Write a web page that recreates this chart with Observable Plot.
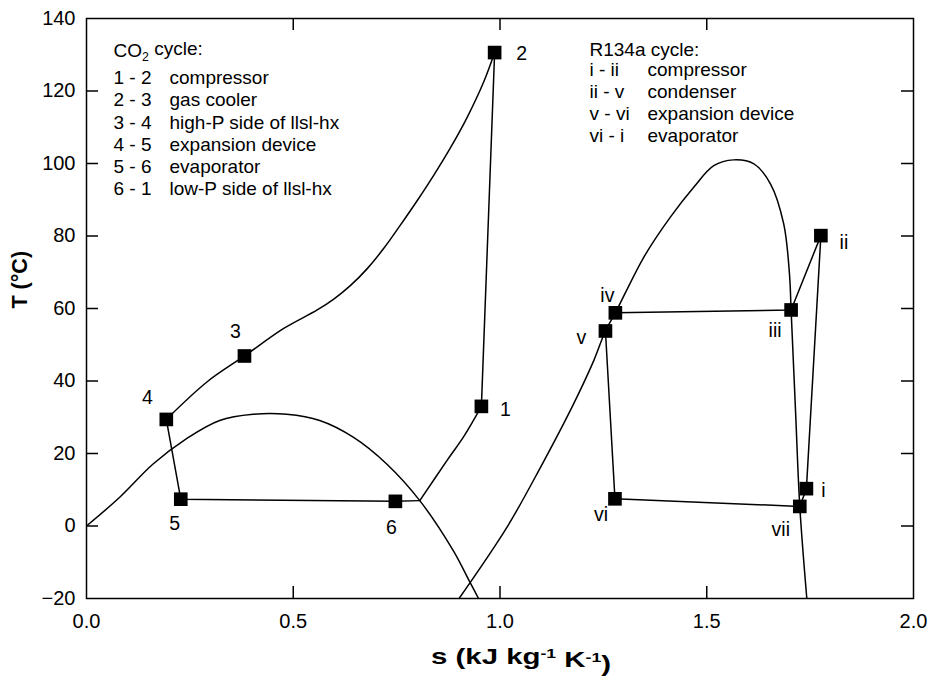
<!DOCTYPE html>
<html><head><meta charset="utf-8">
<script src="https://cdn.jsdelivr.net/npm/d3@7"></script>
<script src="https://cdn.jsdelivr.net/npm/@observablehq/plot@0.6"></script>
<style>
body{margin:0;background:#fff}
svg{font-family:"Liberation Sans",Arial,sans-serif}
</style>
</head><body><div id="chart"></div>
<script>
// ---- tick values ----
const xTickValues = [0, 0.5, 1.0, 1.5, 2.0];
const yTickValues = [-20, 0, 20, 40, 60, 80, 100, 120, 140];
const xInnerTicks = [0.5, 1.0, 1.5];
const yInnerTicks = [0, 20, 40, 60, 80, 100, 120];

// ---- CO2 cycle state points ----
const co2States = [
  {id: "1", s: 0.955, T: 33.0},
  {id: "2", s: 0.987, T: 130.6},
  {id: "3", s: 0.382, T: 46.9},
  {id: "4", s: 0.193, T: 29.4},
  {id: "5", s: 0.228, T: 7.4},
  {id: "6", s: 0.747, T: 6.8}
];
// ---- R134a cycle state points ----
const r134aStates = [
  {id: "i", s: 1.741, T: 10.3},
  {id: "ii", s: 1.776, T: 80.1},
  {id: "iii", s: 1.704, T: 59.6},
  {id: "iv", s: 1.279, T: 58.8},
  {id: "v", s: 1.255, T: 53.8},
  {id: "vi", s: 1.278, T: 7.5},
  {id: "vii", s: 1.725, T: 5.4}
];

// ---- CO2 saturation dome [s, T] ----
const co2Dome = [[0,0],[0.081,8.0],[0.161,17.1],[0.242,24.1],[0.322,29.1],[0.403,30.8],[0.484,30.8],
  [0.564,29.1],[0.645,24.5],[0.726,17.1],[0.806,7.0],[0.887,-6.8],[0.925,-15],[0.948,-20]];
// ---- CO2 gas cooler + high-P side of llsl-hx (2 -> 3 -> 4) ----
const co2HighP = [[0.987,130.6],[0.961,122.6],[0.920,112.6],[0.880,104.3],[0.840,96.8],[0.800,89.8],
  [0.759,83.0],[0.719,76.6],[0.679,71.0],[0.638,66.3],[0.598,62.6],[0.558,59.6],[0.477,54.5],[0.382,46.9],[0.292,39.8],[0.193,29.4]];
// ---- CO2 low-P side superheat (saturation point -> 1) ----
const co2LowP = [[0.806,7.0],[0.872,18.1],[0.913,24.8],[0.955,33.0]];
// ---- CO2 straight legs ----
const co2Compressor = [[0.955,33.0],[0.987,130.6]];
const co2Expansion = [[0.193,29.4],[0.228,7.4],[0.747,6.8],[0.806,7.0]];

// ---- R134a saturation dome ----
const r134aDome = [[0.901,-20],[1.017,-0.3],[1.098,16.2],[1.178,33.7],[1.227,45.7],[1.255,53.8],[1.279,58.8],
  [1.348,74.2],[1.412,85.2],[1.469,93.5],[1.517,99.4],[1.565,101.0],[1.614,99.9],[1.654,94.4],[1.686,83.4],
  [1.700,69.6],[1.704,59.6],[1.715,31.0],[1.725,5.4],[1.742,-20]];
// ---- R134a straight legs ----
const r134aLegA = [[1.741,10.3],[1.776,80.1],[1.704,59.6],[1.279,58.8]];
const r134aLegB = [[1.255,53.8],[1.278,7.5],[1.725,5.4],[1.741,10.3]];

// ---- legend texts ----
const co2Title = "CO2 cycle:";
const co2Codes = ["1 - 2", "2 - 3", "3 - 4", "4 - 5", "5 - 6", "6 - 1"];
const co2Desc = ["compressor", "gas cooler", "high-P side of llsl-hx", "expansion device", "evaporator", "low-P side of llsl-hx"];
const r134aTitle = "R134a cycle:";
const r134aCodes = ["i - ii", "ii - v", "v - vi", "vi - i"];
const r134aDesc = ["compressor", "condenser", "expansion device", "evaporator"];

const xTitle = "s (kJ kg-1 K-1)";
const yTitle = "T (°C)";

// ---- label offsets (px) ----
const labelOffset = {
  "1": [24, 3], "2": [27, 1], "3": [-9, -24], "4": [-19, -22], "5": [-6, 25], "6": [-4, 26],
  "i": [17, 2], "ii": [23, 7], "iii": [-16, 21], "iv": [-8, -17], "v": [-24, 7], "vi": [-14, 16], "vii": [-19, 23]
};

const SW = 1.5;
const W = 932, H = 677, ML = 86, MR = 19, MT = 18, MB = 79;
const innerW = W - ML - MR, innerH = H - MT - MB, TICK = 12;
const lineOpts = {x: d => d[0], y: d => d[1], stroke: "black", strokeWidth: SW};
const allStates = [...co2States, ...r134aStates];

const legendFont = 19, lh = 22.2 / 19;
const legendBase = {frameAnchor: "top-left", text: d => d, textAnchor: "start", lineAnchor: "top", fontSize: legendFont, fill: "black"};
const plot = Plot.plot({
  width: W, height: H,
  marginLeft: ML, marginRight: MR, marginTop: MT, marginBottom: MB,
  style: {fontFamily: '"Liberation Sans", Arial, sans-serif', fontSize: "20px", color: "black", background: "white"},
  x: {domain: [0, 2], label: null},
  y: {domain: [-20, 140], label: null},
  marks: [
    Plot.axisX(xTickValues, {anchor: "bottom", tickSize: 0, tickPadding: 15, tickFormat: d3.format(".1f"), fontSize: 20, label: null}),
    Plot.axisY(yTickValues, {anchor: "left", tickSize: 0, tickPadding: 11, fontSize: 20, label: null}),
    // inward ticks on all four sides
    Plot.tickY(yInnerTicks, {y: d => d, insetRight: innerW - TICK, stroke: "black", strokeWidth: SW}),
    Plot.tickY(yInnerTicks, {y: d => d, insetLeft: innerW - TICK, stroke: "black", strokeWidth: SW}),
    Plot.tickX(xInnerTicks, {x: d => d, insetTop: innerH - TICK, stroke: "black", strokeWidth: SW}),
    Plot.tickX(xInnerTicks, {x: d => d, insetBottom: innerH - TICK, stroke: "black", strokeWidth: SW}),
    Plot.line(co2Dome, {...lineOpts, curve: "catmull-rom", clip: true}),
    Plot.line(co2HighP, {...lineOpts, curve: "catmull-rom"}),
    Plot.line(co2LowP, {...lineOpts, curve: "catmull-rom"}),
    Plot.line(co2Compressor, lineOpts),
    Plot.line(co2Expansion, lineOpts),
    Plot.line(r134aDome, {...lineOpts, curve: "catmull-rom", clip: true}),
    Plot.line(r134aLegA, lineOpts),
    Plot.line(r134aLegB, lineOpts),
    Plot.frame({stroke: "black", strokeWidth: SW}),
    Plot.dot(allStates, {x: "s", y: "T", symbol: "square", r: 7.7, fill: "black", stroke: null}),
    ...allStates.map(d => Plot.text([d], {x: "s", y: "T", text: "id", dx: labelOffset[d.id][0], dy: labelOffset[d.id][1], fontSize: 19.5, fill: "black"})),
    // legends
    Plot.text([co2Title], {...legendBase, dx: 27, dy: 25}),
    Plot.text([co2Codes.join("\n")], {...legendBase, lineHeight: lh, dx: 27, dy: 50}),
    Plot.text([co2Desc.join("\n")], {...legendBase, lineHeight: lh, dx: 83, dy: 50}),
    Plot.text([r134aTitle], {...legendBase, dx: 503, dy: 23.5}),
    Plot.text([r134aCodes.join("\n")], {...legendBase, lineHeight: lh, dx: 503, dy: 41.5}),
    Plot.text([r134aDesc.join("\n")], {...legendBase, lineHeight: lh, dx: 561, dy: 41.5}),
    // axis titles
    Plot.text([xTitle], {frameAnchor: "bottom", text: d => d, dx: 21, dy: 65, fontSize: 22, fontWeight: "bold", fill: "black"}),
    Plot.text([yTitle], {frameAnchor: "left", text: d => d, rotate: -90, dx: -66, fontSize: 21.5, fontWeight: "bold", fill: "black"})
  ]
});
document.getElementById("chart").appendChild(plot);

// rich text: subscripts / superscripts
const svg = d3.select(plot);
svg.selectAll("text").each(function() {
  const t = d3.select(this);
  const s = this.textContent;
  if (s === co2Title) {
    t.text(null);
    t.append("tspan").text("CO");
    t.append("tspan").attr("dy", "0.3em").attr("font-size", "65%").text("2");
    t.append("tspan").attr("dy", "-0.3em").text(" cycle:");
  } else if (s === xTitle) {
    t.text(null);
    t.attr("textLength", 180).attr("lengthAdjust", "spacingAndGlyphs");
    t.append("tspan").text("s (kJ kg");
    t.append("tspan").attr("dy", "-0.45em").attr("font-size", "60%").text("-1");
    t.append("tspan").attr("dy", "0.45em").text(" K");
    t.append("tspan").attr("dy", "-0.45em").attr("font-size", "60%").text("-1");
    t.append("tspan").attr("dy", "0.45em").text(")");
  }
});
</script>
</body></html>
